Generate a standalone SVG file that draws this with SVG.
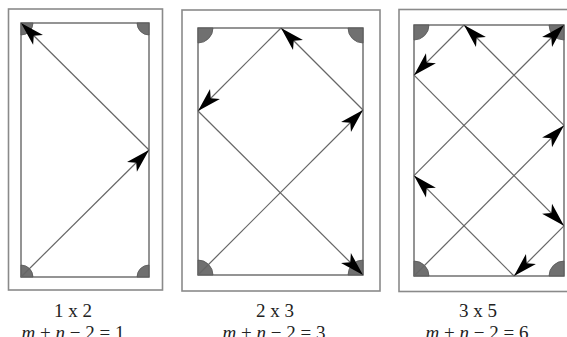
<svg xmlns="http://www.w3.org/2000/svg" width="567" height="337" viewBox="0 0 567 337">
<style>
.outer{fill:none;stroke:#8a8a8a;stroke-width:1.6}
.inner{fill:#fff;stroke:#7a7a7a;stroke-width:1.6}
.corner{fill:#707070;stroke:#555;stroke-width:0.8}
.ray{fill:none;stroke:#666;stroke-width:1.2;marker-end:url(#arr)}
.lbl{font-family:"Liberation Serif","Times New Roman",serif;font-size:19px;fill:#222;text-anchor:middle}
.it{font-style:italic}
</style>
<defs>
<marker id="arr" viewBox="-25 -8 27 16" markerWidth="27" markerHeight="16" refX="0" refY="0" orient="auto" markerUnits="userSpaceOnUse">
<path d="M0,0 L-24,-7 L-18,0 L-24,7 Z" fill="#000"/>
</marker>
</defs>
<rect x="0" y="0" width="567" height="337" fill="#fff"/>
<g id="panel1">
<rect class="outer" x="8.5" y="9" width="154" height="281"/>
<rect class="inner" x="21" y="23" width="128" height="254"/>
<path class="corner" d="M21,23 h12 a12,12 0 0 1 -12,12 Z"/>
<path class="corner" d="M149,23 h-12 a12,12 0 0 0 12,12 Z"/>
<path class="corner" d="M21,277 h12 a12,12 0 0 0 -12,-12 Z"/>
<path class="corner" d="M149,277 h-12 a12,12 0 0 1 12,-12 Z"/>
<text class="lbl" x="73" y="317">1 x 2</text>
<text class="lbl" x="73" y="339"><tspan class="it">m</tspan> + <tspan class="it">n</tspan> − 2 = 1</text>
</g>
<g id="panel2">
<rect class="outer" x="182" y="10" width="198" height="281"/>
<rect class="inner" x="198" y="28" width="165" height="247"/>
<path class="corner" d="M198,28 h15 a15,15 0 0 1 -15,15 Z"/>
<path class="corner" d="M363,28 h-15 a15,15 0 0 0 15,15 Z"/>
<path class="corner" d="M198,275 h15 a15,15 0 0 0 -15,-15 Z"/>
<path class="corner" d="M363,275 h-15 a15,15 0 0 1 15,-15 Z"/>
<text class="lbl" x="275" y="317">2 x 3</text>
<text class="lbl" x="274" y="339"><tspan class="it">m</tspan> + <tspan class="it">n</tspan> − 2 = 3</text>
</g>
<g id="panel3">
<rect class="outer" x="399" y="9.5" width="180" height="282"/>
<rect class="inner" x="414" y="25" width="150" height="251"/>
<path class="corner" d="M414,25 h15 a15,15 0 0 1 -15,15 Z"/>
<path class="corner" d="M564,25 h-15 a15,15 0 0 0 15,15 Z"/>
<path class="corner" d="M414,276 h15 a15,15 0 0 0 -15,-15 Z"/>
<path class="corner" d="M564,276 h-15 a15,15 0 0 1 15,-15 Z"/>
<text class="lbl" x="478" y="317">3 x 5</text>
<text class="lbl" x="477" y="339"><tspan class="it">m</tspan> + <tspan class="it">n</tspan> − 2 = 6</text>
</g>
<g id="connectors">
<line class="ray" x1="21" y1="277" x2="149" y2="150"/>
<line class="ray" x1="149" y1="150" x2="21" y2="23"/>
<line class="ray" x1="198" y1="275" x2="363" y2="110"/>
<line class="ray" x1="363" y1="110" x2="281" y2="28"/>
<line class="ray" x1="281" y1="28" x2="198" y2="111"/>
<line class="ray" x1="198" y1="111" x2="363" y2="275"/>
<line class="ray" x1="414" y1="276" x2="564" y2="125.4"/>
<line class="ray" x1="564" y1="125.4" x2="464" y2="25"/>
<line class="ray" x1="464" y1="25" x2="414" y2="75.2"/>
<line class="ray" x1="414" y1="75.2" x2="564" y2="225.8"/>
<line class="ray" x1="564" y1="225.8" x2="514" y2="276"/>
<line class="ray" x1="514" y1="276" x2="414" y2="175.6"/>
<line class="ray" x1="414" y1="175.6" x2="564" y2="25"/>
</g>
</svg>
